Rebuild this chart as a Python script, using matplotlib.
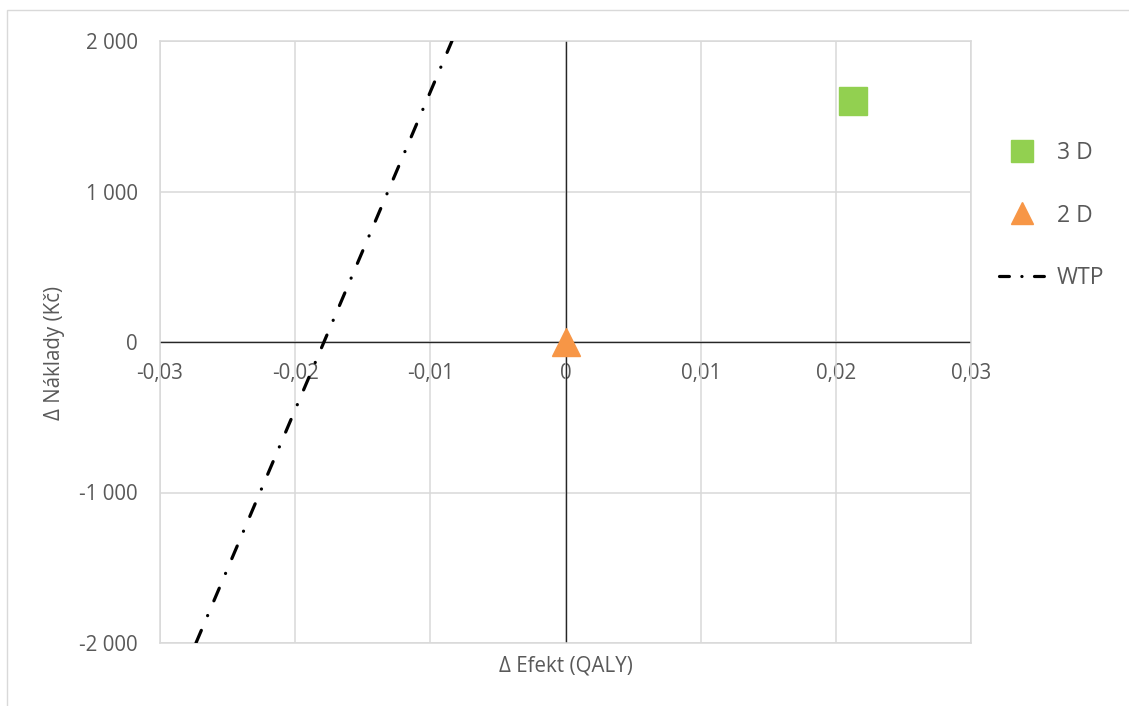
import matplotlib
matplotlib.use('Agg')
import matplotlib.pyplot as plt
from matplotlib.lines import Line2D
from matplotlib.patches import Rectangle

plt.rcParams['font.family'] = ['Open Sans', 'DejaVu Sans']

# data
x_ticks = [-0.03, -0.02, -0.01, 0.0, 0.01, 0.02, 0.03]
x_labels = ['-0,03', '-0,02', '-0,01', '0', '0,01', '0,02', '0,03']
y_ticks = [-2000, -1000, 0, 1000, 2000]
y_labels = ['-2 000', '-1 000', '0', '1 000', '2 000']

d3_x = [0.0213]
d3_y = [1600]
d2_x = [0.0]
d2_y = [0]
wtp_x = [-0.02734, -0.0084]
wtp_y = [-2000, 2000]

grey = '#595959'
grid_c = '#D9D9D9'

fig = plt.figure(figsize=(11.29, 7.06), dpi=100)
ax = fig.add_axes([160 / 1129, 63 / 706, 811 / 1129, 602 / 706])

ax.set_xlim(-0.03, 0.03)
ax.set_ylim(-2000, 2000)

for s in ax.spines.values():
    s.set_color(grid_c)
    s.set_linewidth(1.1)

ax.set_xticks(x_ticks)
ax.set_yticks(y_ticks)
ax.grid(True, color=grid_c, linewidth=1.1)
ax.set_axisbelow(True)
ax.tick_params(axis='x', length=0, labelbottom=False)
ax.tick_params(axis='y', length=0, pad=16, labelsize=14.8, labelcolor=grey)
ax.set_yticklabels(y_labels)

ax.axhline(0, color='#262626', linewidth=1.0, zorder=1.5)
ax.axvline(0, color='#262626', linewidth=1.0, zorder=1.5)

# x tick labels sit under the zero line
sec = ax.secondary_xaxis(0.5)
sec.xaxis.set_ticks_position('bottom')
sec.set_xticks(x_ticks)
sec.set_xticklabels(x_labels)
sec.tick_params(length=0, pad=15, labelsize=14.8, labelcolor=grey,
                labelbottom=True, labeltop=False)
for s in sec.spines.values():
    s.set_visible(False)

ax.plot(wtp_x, wtp_y, color='black', linewidth=2.3,
        linestyle=(0, (4.3, 5.0, 0.05, 5.0)), dash_capstyle='round', zorder=3)
ax.plot(d3_x, d3_y, linestyle='none', marker='s', markersize=20,
        color='#92D050', zorder=4)
ax.plot(d2_x, d2_y, linestyle='none', marker='^', markersize=20,
        color='#F79646', zorder=4)

ax.set_xlabel('Δ Efekt (QALY)', fontsize=14.8, color=grey)
ax.xaxis.set_label_coords(0.5, -0.02, transform=ax.transAxes)
ax.xaxis.label.set_va('top')
ax.set_ylabel('Δ Náklady (Kč)', fontsize=14.8, color=grey)
ax.yaxis.set_label_coords(65 / 1129, 0.5, transform=fig.transFigure)

handles = [
    Line2D([], [], linestyle='none', marker='s', markersize=16.5, color='#92D050'),
    Line2D([], [], linestyle='none', marker='^', markersize=16.5, color='#F79646'),
    Line2D([], [], color='black', linewidth=2.3,
           linestyle=(0, (3.1, 3.9, 0.05, 3.9)), dash_capstyle='round'),
]
lgd = fig.legend(handles, ['3 D', '2 D', 'WTP'], loc='upper left',
                 bbox_to_anchor=(999 / 1129, 1 - 141 / 706), frameon=False,
                 borderpad=0, borderaxespad=0, handlelength=2.05,
                 handletextpad=0.47, labelspacing=1.68, fontsize=16.5)
for t in lgd.get_texts():
    t.set_color(grey)

# thin outer chart border
fig.patches.append(Rectangle((7 / 1129, -0.1), 2, 1 - 10 / 706 + 0.1,
                             transform=fig.transFigure, fill=False,
                             edgecolor=grid_c, linewidth=1.0))

fig.savefig('out.png', dpi=100)
